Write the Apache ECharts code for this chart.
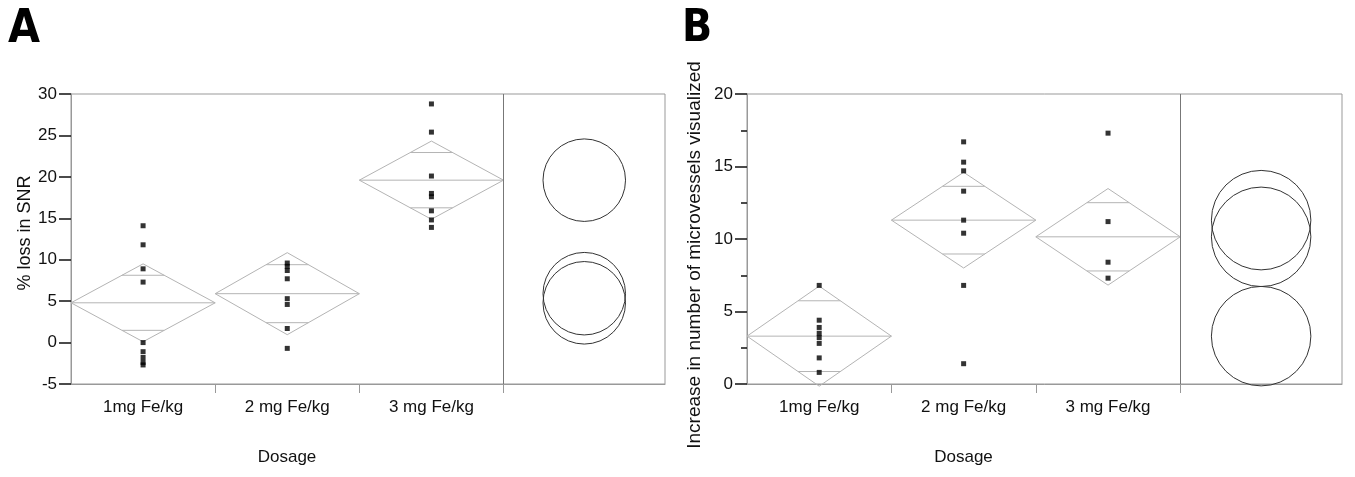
<!DOCTYPE html>
<html>
<head>
<meta charset="utf-8">
<script src="https://cdn.jsdelivr.net/npm/echarts@6/dist/echarts.min.js"></script>
<style>html,body{margin:0;padding:0;background:#fff;}#c{width:1355px;height:477px;}</style>
</head>
<body>
<div id="c"></div>
<script>
// ---- data ----
const categories = ['1mg Fe/kg', '2 mg Fe/kg', '3 mg Fe/kg'];
// Panel A: % loss in SNR
const snrDose1 = [14.1, 11.8, 8.9, 7.3, 0.0, -1.1, -1.8, -2.4, -2.7];
const snrDose2 = [9.6, 9.2, 8.7, 7.7, 5.3, 4.6, 1.7, -0.7];
const snrDose3 = [28.8, 25.4, 20.1, 18.0, 17.6, 15.9, 14.8, 13.9];
const snrMeans = [4.8, 5.9, 19.6];
const snrCI = [4.7, 4.95, 4.72];
const snrCircleRadius = 4.98;
// Panel B: increase in number of microvessels visualized
const mvDose1 = [6.8, 4.4, 3.9, 3.5, 3.2, 2.8, 1.8, 0.8];
const mvDose2 = [16.7, 15.3, 14.7, 13.3, 11.3, 10.4, 6.8, 1.4];
const mvDose3 = [17.3, 11.2, 8.4, 7.3];
const mvMeans = [3.3, 11.3, 10.15];
const mvCI = [3.45, 3.3, 3.33];
const mvCircleRadius = 3.43;

// ---- helpers ----
const FONT = 'Liberation Sans, Arial, sans-serif';
const DIAMOND_COLOR = '#b4b4b4';
const CIRCLE_X = 3.56;
const X_MAX = 4.12;

function points(groups) {
  const out = [];
  groups.forEach((g, i) => g.forEach(v => out.push([i + 0.5, v])));
  return out;
}
function diamondData(means, ci) { return means.map((m, i) => [i, m, ci[i]]); }

function renderDiamond(params, api) {
  const i = api.value(0), m = api.value(1), c = api.value(2);
  const xc = i + 0.5;
  const p = [api.coord([i, m]), api.coord([xc, m + c]), api.coord([i + 1, m]), api.coord([xc, m - c])];
  const k = c / Math.SQRT2;
  const hw = 0.5 * (1 - 1 / Math.SQRT2);
  const st = { stroke: DIAMOND_COLOR, lineWidth: 1, fill: null };
  const lu0 = api.coord([xc - hw, m + k]), lu1 = api.coord([xc + hw, m + k]);
  const ll0 = api.coord([xc - hw, m - k]), ll1 = api.coord([xc + hw, m - k]);
  return {
    type: 'group',
    children: [
      { type: 'polygon', shape: { points: p }, style: st },
      { type: 'line', shape: { x1: p[0][0], y1: p[0][1], x2: p[2][0], y2: p[2][1] }, style: st },
      { type: 'line', shape: { x1: lu0[0], y1: lu0[1], x2: lu1[0], y2: lu1[1] }, style: st },
      { type: 'line', shape: { x1: ll0[0], y1: ll0[1], x2: ll1[0], y2: ll1[1] }, style: st }
    ]
  };
}
function circleRenderer(R) {
  return function (params, api) {
    const m = api.value(1);
    const c = api.coord([CIRCLE_X, m]);
    const r = api.size([0, R])[1];
    return { type: 'circle', shape: { cx: c[0], cy: c[1], r: r }, style: { stroke: '#333', lineWidth: 1, fill: null } };
  };
}

function xAxis(gridIndex, nameShift) {
  return {
    type: 'value', gridIndex, min: 0, max: X_MAX,
    name: 'Dosage', nameLocation: 'middle', nameGap: 65,
    nameTextStyle: { fontFamily: FONT, fontSize: 17, color: '#111', padding: [0, nameShift, 0, 0] },
    axisLine: { show: true, onZero: false, lineStyle: { color: '#999', width: 1 } },
    axisTick: { show: true, customValues: [1, 2, 3], length: 9, lineStyle: { color: '#999' } },
    axisLabel: { customValues: [0.5, 1.5, 2.5], margin: 15, fontFamily: FONT, fontSize: 17, color: '#111',
      formatter: v => categories[Math.floor(v)] },
    splitLine: { show: false }
  };
}

const option = {
  backgroundColor: '#fff',
  animation: false,
  title: [
    { text: 'A', left: 3, top: 2, textStyle: { fontFamily: 'Liberation Sans Narrow, DejaVu Sans Condensed, sans-serif', fontWeight: 'bold', fontSize: 46, color: '#000' } },
    { text: 'B', left: 677, top: 3, textStyle: { fontFamily: 'Liberation Sans Narrow, DejaVu Sans Condensed, sans-serif', fontWeight: 'bold', fontSize: 44, color: '#000' } }
  ],
  grid: [
    { left: 71, top: 94, width: 594, height: 290, show: true, borderColor: '#999', borderWidth: 1 },
    { left: 747, top: 94, width: 595, height: 290, show: true, borderColor: '#999', borderWidth: 1 }
  ],
  xAxis: [xAxis(0, 162), xAxis(1, 162)],
  yAxis: [
    {
      type: 'value', gridIndex: 0, min: -5, max: 30, interval: 5,
      name: '% loss in SNR', nameLocation: 'middle', nameGap: 35,
      nameTextStyle: { fontFamily: FONT, fontSize: 18, color: '#111', padding: [0, 0, 0, 12] },
      axisLine: { show: true, onZero: false, lineStyle: { color: '#999' } },
      axisTick: { show: true, length: 12, lineStyle: { color: '#111', width: 1.5 } },
      axisLabel: { margin: 14, fontFamily: FONT, fontSize: 17, color: '#111' },
      splitLine: { show: false }
    },
    {
      type: 'value', gridIndex: 1, min: 0, max: 20, interval: 5,
      name: 'Increase in number of microvessels visualized', nameLocation: 'middle', nameGap: 43,
      nameTextStyle: { fontFamily: FONT, fontSize: 19, color: '#111', padding: [0, 32, 0, 0] },
      axisLine: { show: true, onZero: false, lineStyle: { color: '#999' } },
      axisTick: { show: true, length: 12, lineStyle: { color: '#111', width: 1.5 } },
      minorTick: { show: true, splitNumber: 2, length: 6, lineStyle: { color: '#111', width: 1.5 } },
      axisLabel: { margin: 14, fontFamily: FONT, fontSize: 17, color: '#111' },
      splitLine: { show: false }, minorSplitLine: { show: false }
    }
  ],
  series: [
    { type: 'custom', xAxisIndex: 0, yAxisIndex: 0, renderItem: renderDiamond, data: diamondData(snrMeans, snrCI), encode: { x: 0, y: 1 }, z: 1, silent: true },
    { type: 'custom', xAxisIndex: 0, yAxisIndex: 0, renderItem: circleRenderer(snrCircleRadius), data: snrMeans.map((m, i) => [i, m]), encode: { x: 0, y: 1 }, z: 1, silent: true,
      markLine: { silent: true, symbol: 'none', label: { show: false }, lineStyle: { color: '#777', width: 1, type: 'solid' }, data: [{ xAxis: 3 }] } },
    { type: 'scatter', xAxisIndex: 0, yAxisIndex: 0, symbol: 'rect', symbolSize: 5, itemStyle: { color: '#000' }, data: points([snrDose1, snrDose2, snrDose3]), z: 3 },

    { type: 'custom', xAxisIndex: 1, yAxisIndex: 1, renderItem: renderDiamond, data: diamondData(mvMeans, mvCI), encode: { x: 0, y: 1 }, z: 1, silent: true },
    { type: 'custom', xAxisIndex: 1, yAxisIndex: 1, renderItem: circleRenderer(mvCircleRadius), data: mvMeans.map((m, i) => [i, m]), encode: { x: 0, y: 1 }, z: 1, silent: true,
      markLine: { silent: true, symbol: 'none', label: { show: false }, lineStyle: { color: '#777', width: 1, type: 'solid' }, data: [{ xAxis: 3 }] } },
    { type: 'scatter', xAxisIndex: 1, yAxisIndex: 1, symbol: 'rect', symbolSize: 5, itemStyle: { color: '#000' }, data: points([mvDose1, mvDose2, mvDose3]), z: 3 }
  ]
};
const chart = echarts.init(document.getElementById('c'), null, { renderer: 'canvas' });
chart.setOption(option);
</script>
</body>
</html>
